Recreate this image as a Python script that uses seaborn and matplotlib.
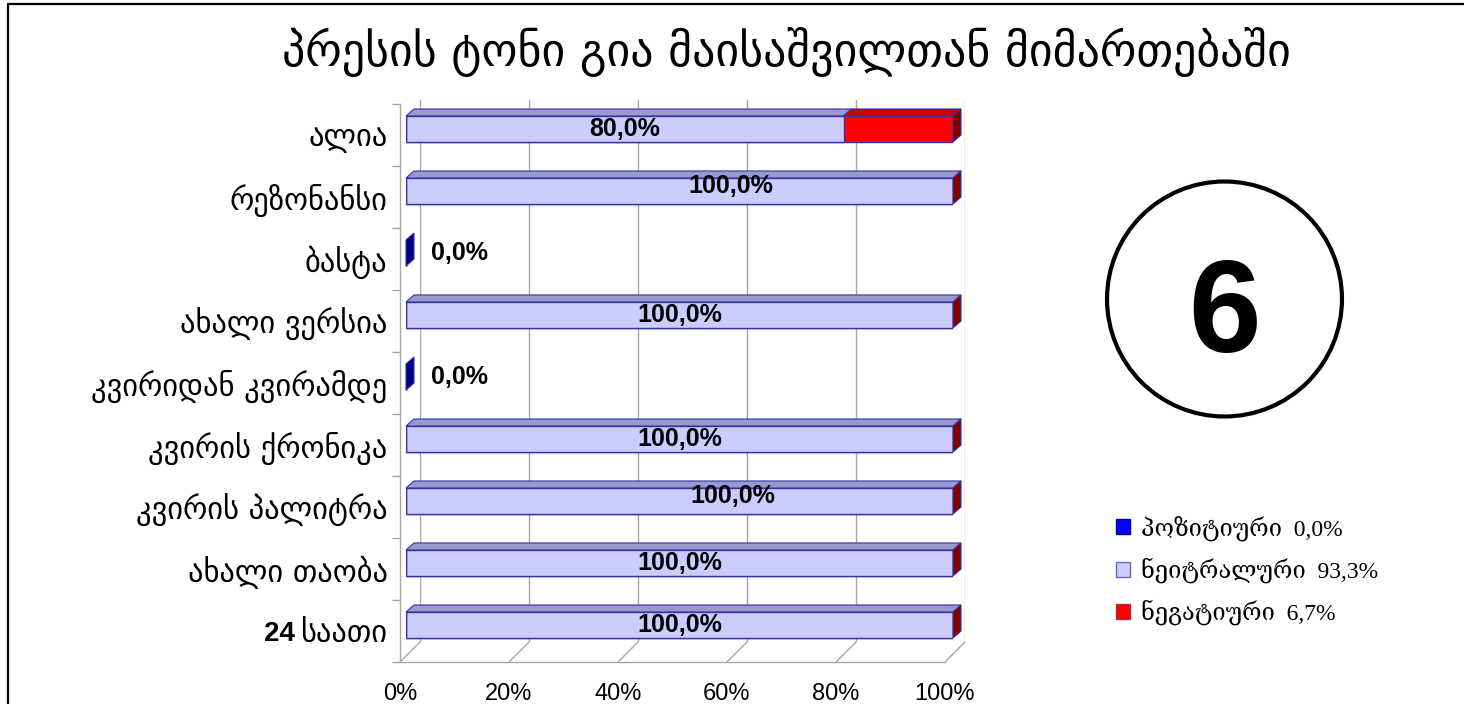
import matplotlib
matplotlib.use('Agg')
import matplotlib.pyplot as plt
import seaborn as sns
from matplotlib.patches import Polygon, Ellipse, Patch
from matplotlib.lines import Line2D
from matplotlib.transforms import IdentityTransform

# ---- data ----
title = "პრესის ტონი გია მაისაშვილთან მიმართებაში"
outlets = ["ალია", "რეზონანსი", "ბასტა", "ახალი ვერსია", "კვირიდან კვირამდე",
           "კვირის ქრონიკა", "კვირის პალიტრა", "ახალი თაობა", "24 საათი"]
positive = [0, 0, 0, 0, 0, 0, 0, 0, 0]
neutral = [80, 100, 0, 100, 0, 100, 100, 100, 100]
negative = [20, 0, 0, 0, 0, 0, 0, 0, 0]
legend_names = ["პოზიტიური", "ნეიტრალური", "ნეგატიური"]
legend_shares = [0.0, 93.3, 6.7]
x_ticks = [0, 20, 40, 60, 80, 100]
badge = "6"

# label nudges (pixels) as placed in the original chart
label_nudge = {1: (51, 5), 6: (53, 5)}

sns.set_theme(style='white')
plt.rcParams['font.family'] = ['DejaVu Sans']
plt.rcParams['text.color'] = 'black'
plt.rcParams['xtick.labelcolor'] = 'black'
plt.rcParams['ytick.labelcolor'] = 'black'

W, H, DPI = 1464, 704, 100
fig = plt.figure(figsize=(W / DPI, H / DPI), dpi=DPI)
fig.patch.set_facecolor('white')


def px_axes(left, top, right, bottom):
    return fig.add_axes([left / W, 1 - bottom / H, (right - left) / W, (bottom - top) / H])


grid_c = '#a6a6a6'
pos_c, neu_c, neg_c = '#0000ff', '#ccccff', '#ff0000'
edge_c = '#3333aa'
depth = (8, 7)

# back wall (grid lines)
axb = px_axes(420, 100, 965, 642)
axb.set_xlim(0, 100)
for t in x_ticks:
    axb.axvline(t, color=grid_c, lw=1)
axb.axis('off')

# bars (middle plane)
axm = px_axes(406, 98, 953, 656)
cum_neu = [p + n for p, n in zip(positive, neutral)]
cum_all = [c + g for c, g in zip(cum_neu, negative)]
sns.barplot(x=cum_all, y=outlets, orient='h', color=neg_c, saturation=1,
            width=0.42, edgecolor=edge_c, linewidth=1, errorbar=None, ax=axm)
n0 = len(axm.patches)
sns.barplot(x=cum_neu, y=outlets, orient='h', color=neu_c, saturation=1,
            width=0.42, edgecolor=edge_c, linewidth=1, errorbar=None, ax=axm)
sns.barplot(x=positive, y=outlets, orient='h', color=pos_c, saturation=1,
            width=0.42, edgecolor=edge_c, linewidth=1, errorbar=None, ax=axm)
axm.set_xlim(0, 100)
axm.set_ylim(8.5, -0.5)
axm.axis('off')

# front plane: axes, ticks and labels
axf = px_axes(400, 104, 945, 662)
axf.patch.set_alpha(0)
axf.set_xlim(0, 100)
axf.set_ylim(8.5, -0.5)
for s in ['top', 'right']:
    axf.spines[s].set_visible(False)
for s in ['left', 'bottom']:
    axf.spines[s].set_color(grid_c)
    axf.spines[s].set_linewidth(1)
axf.set_xticks(x_ticks)
axf.set_xticklabels([f"{t}%" for t in x_ticks], fontsize=17, family='Liberation Sans')
ylabels = [o.split(' ', 1)[1] if o.split(' ', 1)[0].isdigit() else o for o in outlets]
axf.set_yticks(range(len(outlets)))
axf.set_yticklabels(ylabels, fontsize=22)
axf.set_yticks([i - 0.5 for i in range(len(outlets) + 1)], minor=True)
axf.tick_params(axis='y', which='major', length=0, pad=9)
axf.tick_params(axis='y', which='minor', length=6, color=grid_c, left=True)
axf.tick_params(axis='x', which='major', length=0, pad=15)

fig.canvas.draw()


def to_px(ax, x, y):
    return ax.transData.transform((x, y))


dx, dy = depth
# floor diagonals from front ticks to the back wall
for t in x_ticks:
    p = to_px(axf, t, 8.5)
    fig.add_artist(Line2D([p[0], p[0] + 20], [p[1], p[1] + 20], color=grid_c, lw=1,
                          transform=IdentityTransform()))


def face(pts, color):
    axm.add_patch(Polygon(pts, closed=True, facecolor=color, edgecolor=edge_c, lw=0.8,
                          transform=IdentityTransform(), clip_on=False, zorder=3))


# 3-D faces: top faces per segment, side face at the end of each stack
half = axm.patches[n0].get_height() / 2
for i in range(len(outlets)):
    yt = to_px(axm, 0, i - half)[1]
    yb = to_px(axm, 0, i + half)[1]
    segs = [(0, positive[i], '#000099'), (positive[i], cum_neu[i], '#9999cc'),
            (cum_neu[i], cum_all[i], '#cc0000')]
    for a, b, c in segs:
        if b > a:
            xa, xb = to_px(axm, a, i)[0], to_px(axm, b, i)[0]
            face([(xa, yt), (xb, yt), (xb + dx, yt + dy), (xa + dx, yt + dy)], c)
    xe = to_px(axm, cum_all[i], i)[0]
    side_c = '#800000' if cum_all[i] > 0 else '#000080'
    face([(xe, yb), (xe, yt), (xe + dx, yt + dy), (xe + dx, yb + dy)], side_c)

# value labels
k = 72 / DPI
for i in range(len(outlets)):
    txt = f"{neutral[i]:.1f}%".replace('.', ',')
    nx, ny = label_nudge.get(i, (0, 0))
    if neutral[i] > 0:
        axm.annotate(txt, (positive[i] + neutral[i] / 2, i), xytext=(nx * k, ny * k),
                     textcoords='offset points', ha='center', va='center',
                     fontsize=18, fontweight='bold', family='Liberation Sans', zorder=5)
    else:
        axm.annotate(txt, (0, i), xytext=(25 * k, 0), textcoords='offset points',
                     ha='left', va='center', fontsize=18, fontweight='bold',
                     family='Liberation Sans', zorder=5)

# bold numeric prefix of the "24 საათი" label
fig.canvas.draw()
for i, o in enumerate(outlets):
    head = o.split(' ', 1)[0]
    if head.isdigit():
        lab = axf.get_yticklabels()[i]
        bb = lab.get_window_extent()
        left_px = axf.transAxes.transform((0, 0))[0]
        gap = (left_px - bb.x0 + 6) * k
        axf.annotate(head, (0, i), xycoords=('axes fraction', 'data'), xytext=(-gap, 0),
                     textcoords='offset points', ha='right', va='center_baseline',
                     fontsize=20, fontweight='bold', family='Liberation Sans')

# title
fig.text(786 / W, 1 - 52 / H, title, ha='center', va='center', fontsize=33)

# badge
fig.add_artist(Ellipse((1224.5 / W, 1 - 299 / H), 235 / W, 235 / H, fill=False,
                       edgecolor='black', lw=3, transform=fig.transFigure))
fig.text(1225 / W, 1 - 352 / H, badge, ha='center', va='baseline', fontsize=94,
         fontweight='bold', family='Liberation Sans')

# legend
handles = [Patch(facecolor=pos_c, edgecolor='#0000aa'),
           Patch(facecolor=neu_c, edgecolor='#6666cc'),
           Patch(facecolor=neg_c, edgecolor='#aa3333')]
labels = [f"{n}  {s:.1f}%".replace('.', ',') for n, s in zip(legend_names, legend_shares)]
fig.legend(handles, labels, loc='upper left', bbox_to_anchor=(1095 / W, 1 - 494 / H),
           frameon=False, handlelength=0.6, handleheight=0.6, handletextpad=0.45,
           labelspacing=0.7,
           prop={'family': ['Liberation Serif', 'DejaVu Serif', 'DejaVu Sans'], 'size': 17})

# outer frame
fig.add_artist(Line2D([8 / W, 8 / W], [0, 1 - 4 / H], color='black', lw=1.6,
                      transform=fig.transFigure))
fig.add_artist(Line2D([8 / W, 1], [1 - 4 / H, 1 - 4 / H], color='black', lw=1.6,
                      transform=fig.transFigure))

fig.savefig('out.png', dpi=DPI, facecolor='white')
